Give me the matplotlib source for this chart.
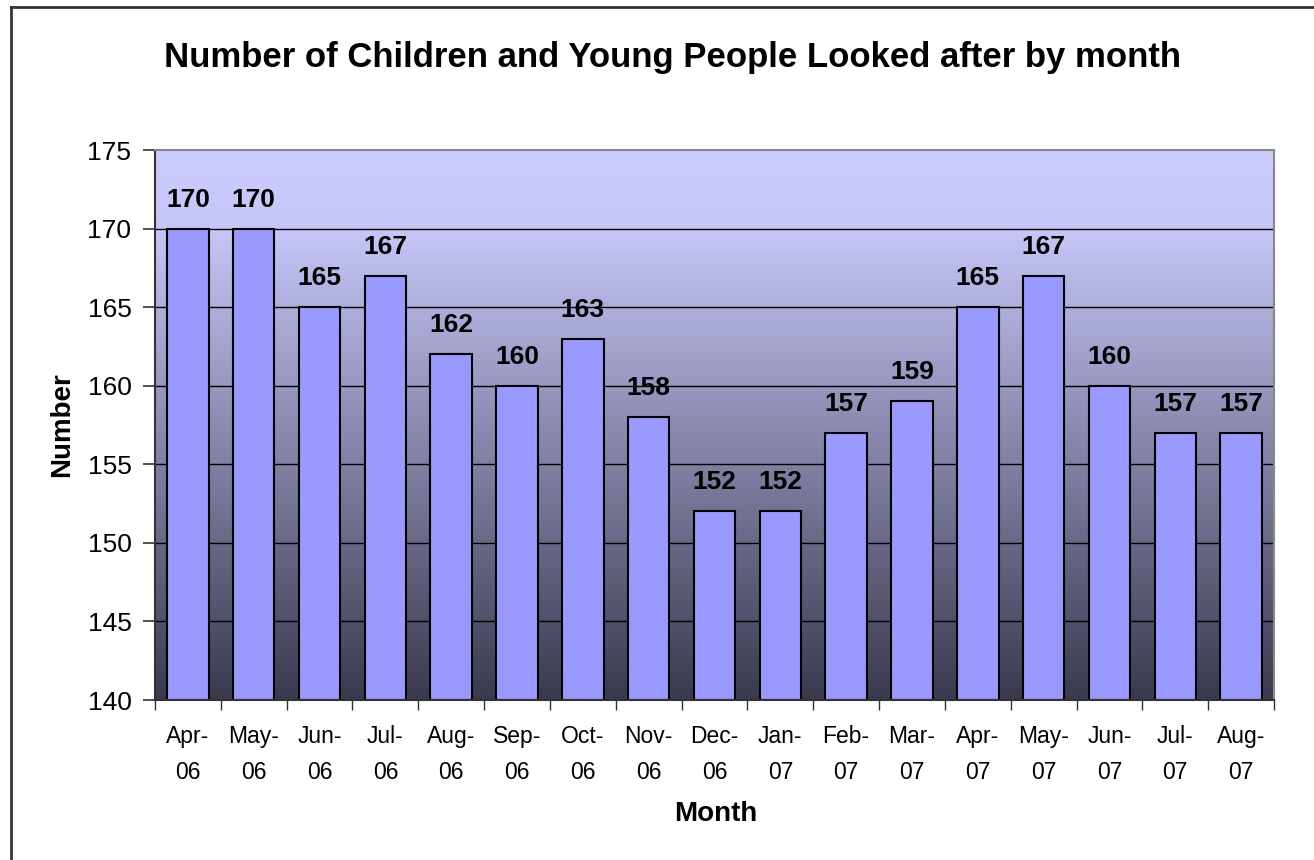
import matplotlib
matplotlib.use("Agg")
import matplotlib.pyplot as plt
import numpy as np
from matplotlib.colors import LinearSegmentedColormap
from matplotlib.lines import Line2D

months = ["Apr-\n06", "May-\n06", "Jun-\n06", "Jul-\n06", "Aug-\n06", "Sep-\n06",
          "Oct-\n06", "Nov-\n06", "Dec-\n06", "Jan-\n07", "Feb-\n07", "Mar-\n07",
          "Apr-\n07", "May-\n07", "Jun-\n07", "Jul-\n07", "Aug-\n07"]
values = [170, 170, 165, 167, 162, 160, 163, 158, 152, 152, 157, 159, 165, 167, 160, 157, 157]
yticks = [140, 145, 150, 155, 160, 165, 170, 175]

plt.rcParams['font.family'] = ['Liberation Sans', 'DejaVu Sans']

fig = plt.figure(figsize=(13.14, 8.6), dpi=100)
ax = fig.add_axes([155/1314, 1-700/860, (1274-155)/1314, 550/860])

n = len(values)
x = np.arange(n)

# gradient background
cmap = LinearSegmentedColormap.from_list(
    "bg", [(0.0, "#3A3A4E"), (30/35, "#C6C6F8"), (1.0, "#CCCCFF")])
grad = np.linspace(0, 1, 256).reshape(-1, 1)
ax.imshow(grad, cmap=cmap, origin="lower", aspect="auto",
          extent=[-0.5, n - 0.5, 140, 175], zorder=0)

for yv in yticks[1:-1]:
    ax.axhline(yv, color="black", lw=1.0, zorder=1)

ax.bar(x, [v - 140 for v in values], bottom=140, width=0.63, color="#9999FF",
       edgecolor="black", linewidth=1.5, zorder=2)

for xi, v in zip(x, values):
    ax.text(xi, v + 1.4, str(v), ha="center", va="baseline", fontsize=19,
            fontweight="bold", zorder=3)

ax.set_xlim(-0.5, n - 0.5)
ax.set_ylim(140, 175)
ax.set_yticks(yticks)
ax.set_yticklabels([str(t) for t in yticks], fontsize=19)
ax.tick_params(axis="y", length=9, width=1.2, direction="out", pad=8, color="#333333")

ax.set_xticks(np.arange(-0.5, n, 1.0))
ax.set_xticklabels([""] * (n + 1))
ax.tick_params(axis="x", length=7, width=1.0, direction="out", color="#333333")
for xi, lab in zip(x, months):
    ax.text(xi, -0.045, lab, transform=ax.get_xaxis_transform(), ha="center",
            va="top", fontsize=16.5, linespacing=1.75)

for side in ["left", "bottom"]:
    ax.spines[side].set_color("#333333")
    ax.spines[side].set_linewidth(1.5)
for side in ["right", "top"]:
    ax.spines[side].set_color("#888888")
    ax.spines[side].set_linewidth(1.5)

fig.text(672/1314, 1-57/860, "Number of Children and Young People Looked after by month",
         ha="center", va="center", fontsize=25, fontweight="bold")
fig.text(716/1314, 1-814/860, "Month", ha="center", va="center", fontsize=20, fontweight="bold")
fig.text(62/1314, 1-425/860, "Number", ha="center", va="center", fontsize=20,
         fontweight="bold", rotation=90)

# figure border (left and top)
fig.add_artist(Line2D([11/1314, 11/1314], [0, 1-7/860], transform=fig.transFigure,
                      color="#333333", lw=2))
fig.add_artist(Line2D([11/1314, 1], [1-7/860, 1-7/860], transform=fig.transFigure,
                      color="#333333", lw=2))

fig.savefig("out.png", dpi=100)
